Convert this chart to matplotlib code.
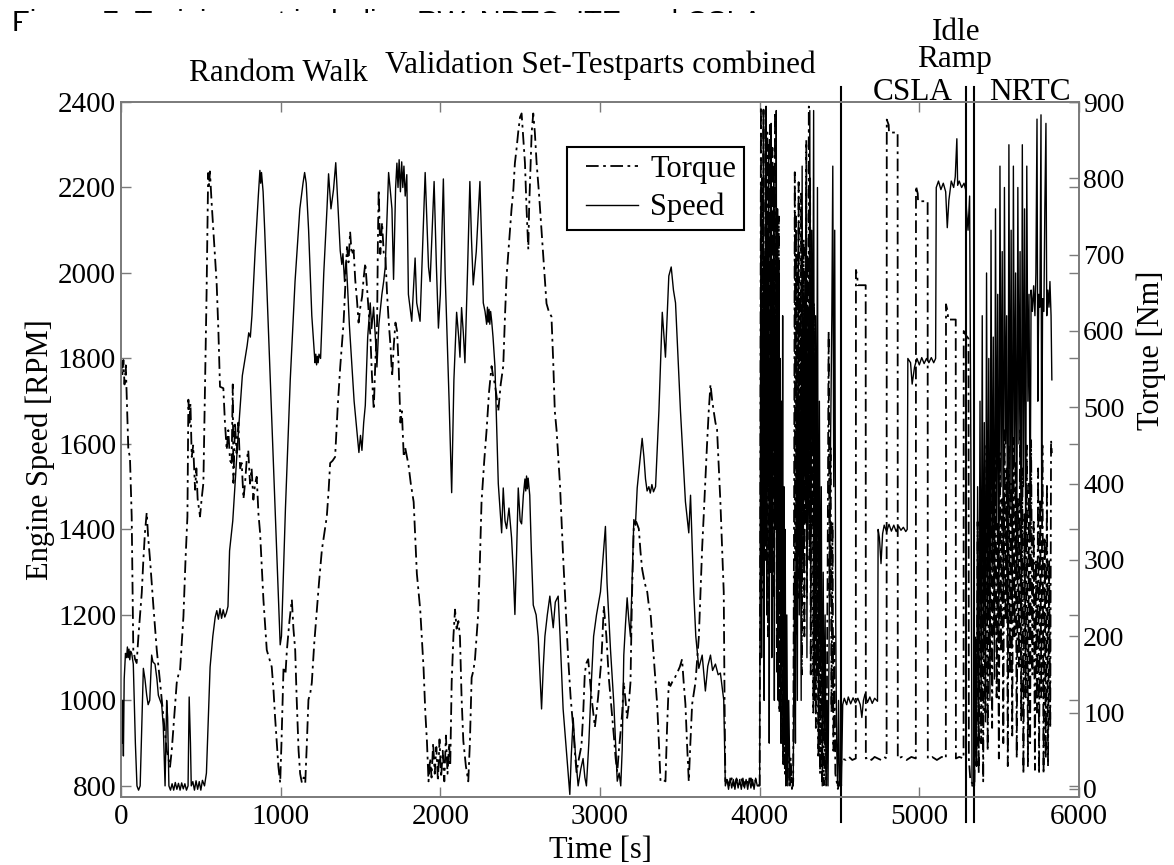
import matplotlib
matplotlib.use("Agg")
import matplotlib.pyplot as plt
from matplotlib.patches import Rectangle
from matplotlib.lines import Line2D
from matplotlib.legend_handler import HandlerLine2D
import matplotlib.transforms as mtransforms

# ---- data: (time [s], value) ----
speed_rw = [(0, 950), (5, 900), (10, 1000), (15, 870), (20, 1050), (28, 1110), (35, 1100), (40, 1125), (45, 1100),
            (50, 1120), (55, 1095), (60, 1115), (67, 1110), (77, 1085), (90, 900), (100, 800), (110, 790), (120, 800),
            (140, 1075), (150, 1050), (161, 1012), (170, 990), (180, 1000), (192, 1106), (200, 1090), (213, 1085),
            (225, 1050), (234, 1012), (245, 1000), (255, 990), (265, 938), (276, 800), (286, 1000), (292, 960),
            (300, 800), (310, 790), (320, 805), (330, 790), (340, 808), (350, 792), (360, 806), (370, 790), (380, 807),
            (390, 793), (400, 805), (410, 790), (420, 800), (427, 1008), (435, 900), (440, 800), (450, 810), (460, 790),
            (470, 812), (480, 792), (490, 810), (500, 790), (510, 813), (523, 800), (535, 830), (558, 1078),
            (575, 1150), (590, 1195), (600, 1210), (610, 1190), (620, 1215), (630, 1192), (640, 1212), (650, 1195),
            (660, 1205), (670, 1220), (680, 1350), (700, 1420), (730, 1600), (760, 1760), (790, 1830), (800, 1860),
            (810, 1850), (820, 1900), (840, 2050), (860, 2180), (870, 2240), (875, 2210), (880, 2235), (890, 2190),
            (900, 2100), (930, 1800), (960, 1500), (985, 1250), (997, 1130), (1005, 1150), (1030, 1450), (1060, 1750),
            (1090, 1980), (1120, 2150), (1140, 2210), (1150, 2235), (1160, 2210), (1175, 2100), (1195, 1900),
            (1210, 1820), (1215, 1790), (1220, 1810), (1225, 1785), (1230, 1805), (1235, 1790), (1240, 1810),
            (1250, 1800), (1270, 2000), (1290, 2150), (1300, 2232), (1315, 2150), (1331, 2195), (1345, 2258),
            (1360, 2150), (1373, 2052), (1383, 2020), (1390, 2045), (1400, 1980), (1410, 2030), (1420, 1960),
            (1430, 1880), (1440, 1820), (1448, 1770), (1460, 1700), (1475, 1640), (1490, 1580), (1500, 1620),
            (1509, 1585), (1520, 1650), (1530, 1690), (1545, 1850), (1561, 1930), (1570, 1870), (1582, 1920),
            (1593, 1850), (1603, 1780), (1615, 1880), (1634, 1950), (1645, 1980), (1655, 2014), (1676, 2235),
            (1685, 2200), (1697, 2150), (1707, 1985), (1720, 2200), (1728, 2257), (1735, 2200), (1742, 2265),
            (1750, 2190), (1758, 2260), (1765, 2200), (1772, 2250), (1780, 2180), (1790, 2230), (1800, 1950),
            (1821, 1887), (1842, 2035), (1852, 1930), (1873, 1887), (1905, 2235), (1926, 2014), (1936, 1980),
            (1961, 2214), (1975, 2020), (1988, 1871), (2000, 1950)]

speed_val = [(2019, 2220), (2030, 2000), (2040, 1877), (2055, 1700), (2071, 1486), (2085, 1750), (2102, 1908),
             (2115, 1850), (2123, 1803), (2133, 1919), (2144, 1860), (2154, 1790), (2170, 2000), (2185, 2214),
             (2195, 2080), (2206, 1972), (2225, 2050), (2248, 2214), (2260, 2050), (2269, 1930), (2280, 1910),
             (2290, 1880), (2295, 1920), (2300, 1885), (2305, 1915), (2310, 1880), (2315, 1910), (2321, 1890),
             (2330, 1850), (2342, 1782), (2363, 1507), (2384, 1392), (2394, 1497), (2405, 1420), (2415, 1402),
             (2430, 1450), (2446, 1381), (2457, 1300), (2467, 1201), (2478, 1350), (2488, 1497), (2500, 1420),
             (2509, 1413), (2520, 1480), (2530, 1518), (2535, 1490), (2540, 1525), (2545, 1495), (2550, 1520),
             (2560, 1480), (2570, 1350), (2582, 1223), (2600, 1200), (2613, 1149), (2625, 1050), (2634, 980),
             (2645, 1080), (2655, 1150), (2670, 1200), (2686, 1244), (2707, 1170), (2720, 1230), (2738, 1244),
             (2750, 1150), (2769, 980), (2790, 880), (2811, 780), (2820, 870), (2832, 959), (2845, 880), (2863, 800),
             (2880, 840), (2894, 864), (2905, 820), (2915, 800), (2930, 900), (2946, 1043), (2960, 1150), (2978, 1200),
             (3003, 1254), (3034, 1407), (3044, 1275), (3066, 1117), (3087, 990), (3100, 880), (3108, 811),
             (3120, 830), (3130, 800), (3139, 885), (3149, 1106), (3160, 1180), (3170, 1240), (3180, 1190),
             (3191, 1149), (3212, 1423), (3222, 1410), (3233, 1497), (3250, 1560), (3264, 1613), (3275, 1570),
             (3285, 1518), (3295, 1490), (3306, 1500), (3315, 1485), (3325, 1505), (3335, 1488), (3348, 1500),
             (3369, 1677), (3390, 1908), (3410, 1803), (3431, 1993), (3446, 2014), (3460, 1960), (3473, 1930),
             (3504, 1677), (3535, 1465), (3556, 1392), (3567, 1480), (3587, 1254), (3600, 1150), (3619, 1075),
             (3640, 1106), (3660, 1022), (3675, 1080), (3692, 1106), (3705, 1070), (3723, 1085), (3740, 1060),
             (3754, 1064), (3775, 1001), (3785, 800), (3795, 815), (3805, 792), (3815, 818), (3825, 795), (3835, 815),
             (3845, 792), (3855, 818), (3865, 795), (3875, 815), (3885, 792), (3895, 818), (3905, 795), (3915, 815),
             (3925, 792), (3935, 818), (3945, 795), (3955, 815), (3965, 792), (3975, 818), (3985, 800), (3995, 800)]

speed_mix = [(4000, 800), (4004, 1500), (4008, 2200), (4012, 1100), (4016, 1900), (4020, 1300), (4024, 2380),
             (4028, 1000), (4032, 2000), (4036, 1400), (4040, 2390), (4044, 1200), (4048, 2100), (4052, 1500),
             (4056, 2300), (4060, 900), (4064, 1800), (4068, 1300), (4072, 2350), (4076, 1100), (4080, 2000),
             (4084, 1600), (4088, 2250), (4092, 1000), (4096, 1900), (4100, 1400), (4104, 2380), (4108, 1200),
             (4112, 2150), (4116, 1000), (4120, 2000), (4124, 1300), (4128, 1800), (4132, 900), (4136, 1700),
             (4140, 1100), (4144, 1900), (4148, 850), (4152, 1500), (4156, 900), (4160, 1400), (4164, 800),
             (4170, 1200), (4176, 800), (4182, 1000), (4190, 800), (4200, 820), (4210, 800), (4218, 1300),
             (4224, 900), (4230, 1800), (4236, 1000), (4242, 2100), (4248, 1200), (4254, 1700), (4260, 1000),
             (4266, 2250), (4272, 1300), (4278, 2000), (4284, 1500), (4290, 2200), (4296, 1100), (4302, 1900),
             (4308, 1400), (4314, 2380), (4320, 1200), (4326, 2100), (4332, 1600), (4338, 2380), (4344, 1000),
             (4350, 1900), (4356, 1300), (4362, 2200), (4368, 900), (4374, 1700), (4380, 1100), (4386, 1500),
             (4392, 800), (4398, 1300), (4404, 900), (4410, 1200), (4416, 800), (4422, 1000), (4428, 800),
             (4436, 1200), (4444, 1600), (4452, 1900), (4458, 2250), (4464, 1500), (4470, 2100), (4476, 1200),
             (4482, 900), (4488, 800), (4494, 1000), (4500, 800), (4506, 850), (4512, 800)]

speed_csla = [(4520, 990), (4530, 1005), (4545, 990), (4555, 1008), (4570, 992), (4585, 1006), (4600, 994),
              (4615, 1005), (4630, 990), (4640, 960), (4650, 1000), (4660, 1015), (4675, 995), (4690, 1008),
              (4705, 993), (4720, 1005), (4738, 998), (4742, 1400), (4750, 1380), (4760, 1320), (4770, 1390),
              (4780, 1410), (4795, 1395), (4810, 1412), (4825, 1396), (4840, 1410), (4855, 1395), (4870, 1408),
              (4885, 1398), (4900, 1405), (4915, 1395), (4924, 1400), (4928, 1800), (4945, 1790), (4955, 1740),
              (4970, 1780), (4985, 1800), (5000, 1785), (5015, 1802), (5030, 1788), (5045, 1800), (5060, 1790),
              (5075, 1802), (5090, 1790), (5102, 1800), (5106, 2200), (5120, 2215), (5135, 2195), (5150, 2210),
              (5165, 2190), (5175, 2106), (5185, 2170), (5200, 2215), (5215, 2200), (5225, 2225), (5235, 2314),
              (5240, 2205), (5250, 2215), (5265, 2200), (5280, 2210), (5290, 2195), (5295, 2150), (5305, 2100),
              (5315, 2180), (5325, 1400), (5330, 800), (5345, 800)]

speed_nrtc = [(5352, 1100), (5358, 850), (5365, 1500), (5372, 900), (5380, 1700), (5387, 1000), (5394, 1900),
              (5400, 1100), (5407, 1650), (5414, 950), (5421, 2000), (5428, 1200), (5435, 1800), (5442, 1000),
              (5449, 2100), (5456, 1300), (5463, 1850), (5470, 1050), (5477, 2150), (5484, 1400), (5491, 1950),
              (5498, 1150), (5505, 2250), (5512, 1500), (5519, 2050), (5526, 1250), (5533, 2200), (5540, 1600),
              (5547, 1900), (5554, 1100), (5561, 2300), (5568, 1450), (5575, 2100), (5582, 1200), (5589, 2250),
              (5596, 1550), (5603, 2000), (5610, 1300), (5617, 2200), (5624, 1600), (5631, 2050), (5638, 1200),
              (5645, 2300), (5652, 1500), (5659, 2150), (5666, 1350), (5673, 2250), (5680, 1700), (5687, 1950),
              (5694, 1400), (5700, 1960), (5708, 1910), (5716, 1970), (5724, 1900), (5730, 2000), (5737, 2360),
              (5742, 1700), (5748, 1950), (5755, 1920), (5762, 2370), (5766, 1450), (5772, 1940), (5780, 1910),
              (5786, 2150), (5793, 2350), (5798, 1900), (5805, 1960), (5812, 1920), (5818, 1980), (5825, 1900),
              (5830, 1750)]

torque_rw = [(0, 560), (8, 540), (15, 562), (22, 530), (30, 555), (38, 500), (46, 444), (56, 435), (67, 357),
             (77, 182), (88, 170), (98, 165), (109, 200), (120, 230), (130, 257), (140, 300), (150, 336), (161, 362),
             (170, 330), (182, 300), (192, 270), (203, 239), (214, 210), (224, 182), (245, 139), (266, 94), (286, 51),
             (307, 29), (318, 51), (335, 100), (349, 139), (360, 150), (370, 156), (380, 190), (391, 226), (404, 300),
             (416, 357), (422, 510), (429, 480), (435, 505), (443, 435), (452, 450), (464, 392), (472, 420),
             (480, 380), (495, 357), (505, 380), (516, 401), (526, 523), (536, 650), (546, 807), (552, 790),
             (557, 809), (567, 770), (578, 733), (599, 663), (610, 600), (620, 527), (641, 525), (651, 480),
             (662, 444), (672, 470), (683, 430), (693, 427), (700, 530), (704, 401), (714, 480), (724, 440),
             (735, 480), (746, 420), (756, 427), (767, 380), (777, 401), (787, 430), (797, 444), (808, 400),
             (818, 420), (829, 379), (840, 400), (850, 409), (861, 360), (871, 336), (892, 248), (913, 182),
             (930, 170), (944, 160), (955, 130), (965, 94), (976, 60), (986, 29), (997, 8), (1005, 60), (1018, 160),
             (1030, 150), (1039, 182), (1055, 220), (1070, 248), (1080, 210), (1091, 182), (1100, 120), (1112, 51),
             (1122, 20), (1133, 8), (1144, 15), (1154, 8), (1164, 60), (1174, 117), (1185, 125), (1195, 139),
             (1210, 190), (1227, 235), (1240, 270), (1258, 313), (1270, 330), (1289, 357), (1300, 390), (1310, 427),
             (1325, 430), (1341, 435), (1357, 500), (1373, 553), (1394, 611), (1405, 660), (1415, 710), (1425, 690),
             (1435, 730), (1445, 700), (1457, 706), (1467, 667), (1478, 640), (1488, 611), (1498, 630), (1510, 645),
             (1520, 670), (1530, 689), (1546, 640), (1562, 593), (1572, 540), (1583, 497), (1593, 560), (1604, 611),
             (1609, 720), (1614, 785), (1624, 701), (1635, 742), (1646, 700), (1656, 698), (1666, 650), (1677, 611),
             (1688, 580), (1698, 540), (1708, 580), (1719, 611), (1729, 600), (1739, 554), (1750, 480), (1759, 495),
             (1771, 435), (1780, 447), (1801, 424), (1815, 400), (1833, 376), (1853, 282), (1874, 235), (1895, 158),
             (1906, 100), (1916, 63), (1926, 10), (1936, 40), (1945, 15), (1955, 60), (1965, 20), (1975, 55),
             (1985, 10), (1995, 65)]

torque_val = [(2005, 15), (2015, 50), (2025, 10), (2035, 70), (2045, 20), (2055, 60), (2062, 30), (2071, 140),
              (2082, 200), (2092, 235), (2102, 210), (2113, 220), (2123, 199), (2133, 120), (2144, 63), (2160, 30),
              (2175, 10), (2185, 60), (2196, 146), (2207, 155), (2217, 170), (2227, 200), (2237, 229), (2248, 300),
              (2258, 376), (2275, 430), (2290, 471), (2305, 520), (2321, 554), (2331, 540), (2342, 530), (2352, 515),
              (2363, 495), (2378, 530), (2394, 554), (2405, 620), (2415, 672), (2425, 700), (2436, 731), (2446, 760),
              (2457, 784), (2467, 820), (2478, 840), (2488, 861), (2499, 880), (2509, 885), (2520, 850), (2530, 820),
              (2540, 760), (2551, 707), (2556, 760), (2561, 790), (2572, 860), (2582, 885), (2592, 860), (2603, 820),
              (2618, 780), (2634, 731), (2650, 680), (2665, 636), (2680, 625), (2696, 619), (2707, 560), (2717, 495),
              (2728, 470), (2738, 436), (2749, 400), (2759, 353), (2770, 300), (2780, 258), (2791, 210), (2801, 170),
              (2816, 120), (2832, 81), (2842, 50), (2853, 22), (2868, 40), (2884, 57), (2895, 100), (2905, 152),
              (2915, 165), (2926, 170), (2947, 120), (2968, 81), (2988, 120), (3009, 170), (3024, 240), (3040, 200),
              (3055, 146), (3070, 110), (3087, 69), (3098, 40), (3108, 22), (3118, 50), (3129, 75), (3139, 100),
              (3149, 140), (3160, 115), (3170, 93), (3180, 110), (3191, 140), (3200, 250), (3212, 347), (3227, 350),
              (3243, 341), (3254, 310), (3264, 288), (3280, 270), (3296, 258), (3306, 240), (3317, 229), (3327, 200),
              (3338, 170), (3348, 140), (3358, 111), (3369, 60), (3379, 10), (3395, 12), (3410, 10), (3420, 80),
              (3431, 140), (3441, 135), (3452, 140), (3467, 145), (3483, 152), (3500, 160), (3514, 170), (3524, 140),
              (3535, 111), (3545, 60), (3556, 10), (3566, 60), (3577, 111), (3587, 125), (3598, 140), (3609, 170),
              (3619, 199), (3630, 260), (3640, 317), (3650, 360), (3660, 406), (3670, 450), (3681, 495), (3692, 530),
              (3702, 510), (3712, 495), (3723, 480), (3733, 471), (3744, 420), (3754, 376), (3764, 320), (3775, 258),
              (3780, 120), (3785, 10), (3795, 12), (3810, 5), (3825, 14), (3840, 4), (3855, 13), (3870, 5),
              (3885, 14), (3900, 4), (3915, 13), (3930, 5), (3945, 14), (3960, 4), (3975, 12), (3990, 5), (3995, 5)]

torque_mix = [(4000, 5), (4004, 400), (4008, 894), (4012, 250), (4016, 800), (4020, 350), (4024, 890), (4028, 450),
              (4032, 700), (4036, 300), (4040, 880), (4044, 500), (4048, 860), (4052, 200), (4056, 750), (4060, 420),
              (4064, 870), (4068, 300), (4072, 650), (4076, 450), (4080, 840), (4084, 250), (4088, 780), (4092, 400),
              (4096, 887), (4100, 350), (4104, 700), (4108, 150), (4112, 600), (4116, 300), (4120, 750), (4124, 100),
              (4128, 500), (4132, 200), (4136, 450), (4140, 60), (4144, 350), (4148, 30), (4152, 250), (4158, 20),
              (4164, 150), (4170, 10), (4178, 80), (4186, 5), (4194, 40), (4202, 0), (4210, 10), (4216, 400),
              (4220, 808), (4224, 300), (4228, 750), (4232, 200), (4236, 700), (4240, 350), (4244, 795), (4248, 250),
              (4252, 650), (4256, 400), (4260, 780), (4264, 150), (4268, 600), (4272, 300), (4276, 720), (4280, 200),
              (4284, 550), (4288, 350), (4292, 850), (4296, 250), (4300, 700), (4304, 400), (4308, 894), (4312, 300),
              (4316, 800), (4320, 150), (4324, 600), (4328, 350), (4332, 700), (4336, 100), (4340, 637), (4344, 200),
              (4348, 500), (4352, 80), (4356, 450), (4360, 150), (4364, 380), (4368, 40), (4372, 300), (4378, 20),
              (4384, 200), (4390, 10), (4396, 150), (4402, 5), (4410, 80), (4418, 5), (4426, 300), (4432, 600),
              (4438, 250), (4444, 450), (4450, 100), (4456, 350), (4462, 50), (4468, 200), (4474, 20), (4482, 10),
              (4490, 0), (4498, 10), (4506, 5), (4512, 40)]

torque_csla = [(4540, 38), (4560, 42), (4580, 38), (4602, 40), (4603, 680), (4612, 670), (4614, 660), (4664, 660),
               (4665, 40), (4680, 42), (4700, 38), (4720, 42), (4740, 40), (4760, 38), (4780, 42), (4795, 40),
               (4796, 877), (4808, 870), (4810, 860), (4864, 860), (4865, 40), (4890, 42), (4920, 38), (4950, 42),
               (4978, 40), (4979, 790), (4990, 780), (4992, 770), (5052, 770), (5053, 40), (5080, 42), (5110, 38),
               (5140, 42), (5166, 40), (5167, 635), (5178, 625), (5180, 615), (5228, 615), (5229, 40), (5250, 42),
               (5277, 40), (5278, 600), (5290, 595), (5308, 590), (5310, 40), (5320, 10), (5345, 5)]

torque_nrtc = [(5352, 200), (5358, 30), (5365, 350), (5372, 20), (5380, 400), (5387, 60), (5394, 300), (5400, 10),
               (5407, 380), (5414, 100), (5421, 450), (5428, 50), (5435, 330), (5442, 150), (5449, 470), (5456, 80),
               (5463, 400), (5470, 200), (5477, 460), (5484, 120), (5491, 350), (5498, 40), (5505, 440), (5512, 180),
               (5519, 380), (5526, 60), (5533, 470), (5540, 220), (5547, 420), (5554, 30), (5561, 450), (5568, 150),
               (5575, 400), (5582, 70), (5589, 460), (5596, 200), (5603, 430), (5610, 40), (5617, 380), (5624, 160),
               (5631, 470), (5638, 90), (5645, 420), (5652, 20), (5659, 360), (5666, 120), (5673, 450), (5680, 30),
               (5687, 400), (5694, 60), (5700, 457), (5708, 150), (5716, 350), (5724, 25), (5730, 300), (5737, 100),
               (5744, 420), (5750, 20), (5757, 380), (5764, 120), (5771, 450), (5778, 20), (5785, 330), (5792, 40),
               (5799, 400), (5806, 30), (5813, 300), (5820, 80), (5825, 457), (5830, 440)]

section_bounds = [4510, 5290, 5345]
# label, centre x [px], baseline y [px]
section_labels = [("Random Walk", 278, 81), ("Validation Set-Testparts combined", 600, 73),
                  ("Idle", 956, 40), ("Ramp", 955, 67), ("CSLA", 913, 100), ("NRTC", 1030, 100)]
title = "Figure 7: Training set including RW, NRTC, ITE and CSLA"

speed = speed_rw + speed_val + speed_mix + speed_csla + speed_nrtc
torque = torque_rw + torque_val + torque_mix + torque_csla + torque_nrtc
speed_t = [p[0] for p in speed]
speed_v = [p[1] for p in speed]
torque_t = [p[0] for p in torque]
torque_v = [p[1] for p in torque]

W, H = 1174, 865
serif = "Liberation Serif"
gray = "#7a7a7a"

fig = plt.figure(figsize=(W / 100, H / 100), dpi=100)
ax = fig.add_axes([121 / W, 1 - 797 / H, (1079 - 121) / W, (797 - 102) / H])
ax2 = ax.twinx()

dash = (0, (7, 2.5, 1.5, 2.5))
ax2.plot(torque_t, torque_v, color="black", lw=1.3, linestyle=dash)
ax.plot(speed_t, speed_v, color="black", lw=1.0)

ax.set_xlim(0, 6000)
ax.set_ylim(774, 2400)
ax2.set_ylim(-10.5, 900)
ax.set_xticks(range(0, 6001, 1000))
ax.set_yticks(range(800, 2401, 200))
ax2.set_yticks(range(0, 901, 100))

for a in (ax, ax2):
    for s in a.spines.values():
        s.set_color(gray)
        s.set_linewidth(1.2)
    a.tick_params(direction="in", length=7, width=1.0, color=gray, labelsize=21)
ax.tick_params(top=True, right=True)
ax.tick_params(axis="x", pad=5)
ax.tick_params(axis="y", pad=3.5)
ax2.tick_params(axis="y", pad=3, labelsize=20)
for a in (ax, ax2):
    for lab in a.get_xticklabels() + a.get_yticklabels():
        lab.set_fontfamily(serif)

ax.set_xlabel("Time [s]", fontsize=22, fontfamily=serif)
ax.xaxis.set_label_coords(0.5, -0.056)
ax.set_ylabel("Engine Speed [RPM]", fontsize=22, fontfamily=serif)
ax.yaxis.set_label_coords(-0.069, 0.5)
ax2.set_ylabel("Torque [Nm]", fontsize=22, fontfamily=serif)
ax2.yaxis.set_label_coords(1.0595, 0.643)

# section boundaries reach past the frame
trans = mtransforms.blended_transform_factory(ax.transData, ax.transAxes)
for tb in section_bounds:
    ax.plot([tb, tb], [-0.036, 1.0216], color="black", lw=1.5, transform=trans, clip_on=False)

for txt, px, py in section_labels:
    fig.text(px / W, 1 - py / H, txt, ha="center", va="baseline", fontsize=22.5, fontfamily=serif)

handles = [Line2D([], [], color="black", lw=1.3, linestyle=dash),
           Line2D([], [], color="black", lw=1.0)]
leg = ax.legend(handles, ["Torque", "Speed"], loc="upper left", bbox_to_anchor=(0.4656, 0.9353),
                prop={"family": serif, "size": 22}, fancybox=False, framealpha=1, edgecolor="black",
                handlelength=2.07, borderpad=0.25, labelspacing=0.3, handletextpad=0.4, borderaxespad=0,
                handler_map={Line2D: HandlerLine2D(xpad=0.36)})
leg.get_frame().set_linewidth(1.5)

# figure caption, mostly hidden like in the scan
fig.text(12 / W, 1 - 9 / H, title, ha="left", va="top", fontsize=21, fontfamily="Liberation Sans")
fig.add_artist(Rectangle((22 / W, 1 - 40 / H), 780 / W, 26.5 / H, transform=fig.transFigure,
                         facecolor="white", edgecolor="none", zorder=10))

fig.savefig("out.png", dpi=100)
